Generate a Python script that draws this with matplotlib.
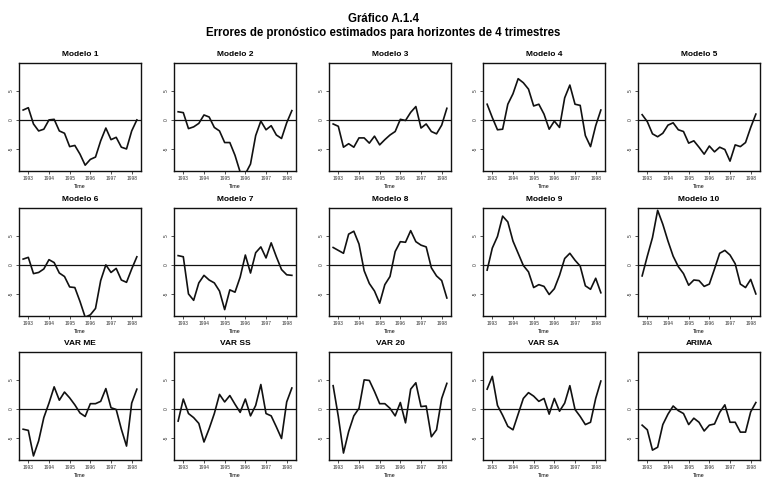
import numpy as np
import matplotlib
matplotlib.use("Agg")
import matplotlib.pyplot as plt

titles = ["Modelo 1", "Modelo 2", "Modelo 3", "Modelo 4", "Modelo 5",
          "Modelo 6", "Modelo 7", "Modelo 8", "Modelo 9", "Modelo 10",
          "VAR ME", "VAR SS", "VAR 20", "VAR SA", "ARIMA"]

time = 1992.75 + 0.25 * np.arange(23)
year_ticks = [1993, 1994, 1995, 1996, 1997, 1998]
y_ticks = [-5, 0, 5]

modelo1 = [1.7, 2.1, -0.7, -1.9, -1.6, 0.0, 0.1, -1.9, -2.3, -4.6, -4.4, -5.9,
           -7.8, -6.8, -6.4, -3.6, -1.4, -3.4, -3.0, -4.7, -5.0, -1.9, 0.0]
modelo2 = [1.4, 1.25, -1.5, -1.2, -0.6, 0.85, 0.5, -1.3, -1.9, -3.9, -3.9, -6.1,
           -9.0, -9.3, -7.6, -2.7, -0.2, -1.7, -1.0, -2.6, -3.2, -0.5, 1.6]
modelo3 = [-0.7, -1.1, -4.7, -4.1, -4.7, -3.1, -3.1, -4.0, -2.8, -4.3, -3.4, -2.6,
           -2.0, 0.1, -0.1, 1.3, 2.3, -1.4, -0.7, -2.0, -2.4, -0.9, 2.0]
modelo4 = [2.7, 0.4, -1.7, -1.6, 2.7, 4.5, 7.1, 6.4, 5.3, 2.4, 2.7, 1.0,
           -1.6, -0.2, -1.3, 3.8, 6.0, 2.7, 2.5, -2.7, -4.6, -1.0, 1.7]
modelo5 = [0.9, -0.3, -2.4, -2.9, -2.3, -0.9, -0.5, -1.7, -2.0, -4.0, -3.6, -4.7,
           -5.9, -4.5, -5.5, -4.7, -5.1, -7.1, -4.3, -4.6, -3.9, -1.3, 1.0]
modelo6 = [1.0, 1.3, -1.5, -1.3, -0.7, 0.9, 0.4, -1.4, -2.0, -3.8, -3.9, -6.3,
           -9.0, -8.6, -7.5, -2.7, 0.0, -1.3, -0.6, -2.6, -3.0, -0.7, 1.4]
modelo7 = [1.6, 1.4, -5.0, -6.1, -3.1, -1.8, -2.6, -3.1, -4.5, -7.7, -4.3, -4.7,
           -2.1, 1.7, -1.4, 2.1, 3.1, 1.2, 3.8, 1.4, -0.8, -1.7, -1.8]
modelo8 = [3.0, 2.5, 2.0, 5.3, 5.8, 3.6, -1.0, -3.2, -4.5, -6.6, -3.4, -2.0,
           2.3, 4.0, 3.9, 5.9, 4.0, 3.4, 3.1, -0.5, -1.9, -2.7, -5.7]
modelo9 = [-0.9, 2.9, 4.9, 8.4, 7.4, 4.1, 2.0, -0.1, -1.2, -3.9, -3.4, -3.7,
           -5.1, -4.1, -1.8, 1.1, 2.0, 0.8, -0.2, -3.6, -4.2, -2.3, -4.8]
modelo10 = [-1.9, 1.5, 4.7, 9.4, 7.0, 4.1, 1.5, -0.3, -1.5, -3.5, -2.6, -2.7,
            -3.7, -3.3, -0.7, 2.0, 2.5, 1.7, 0.2, -3.3, -3.9, -2.5, -5.0]
var_me = [-3.5, -3.7, -8.1, -5.5, -1.5, 1.0, 3.8, 1.5, 2.9, 1.9, 0.7, -0.7,
          -1.3, 0.9, 0.9, 1.3, 3.5, 0.2, -0.1, -3.5, -6.4, 1.0, 3.4]
var_ss = [-2.1, 1.7, -0.8, -1.5, -2.5, -5.7, -3.4, -0.8, 2.5, 1.2, 2.3, 0.8,
          -0.6, 1.7, -1.2, 0.6, 4.2, -0.8, -1.2, -3.1, -5.1, 1.2, 3.6]
var_20 = [4.0, -1.3, -7.6, -3.9, -1.2, 0.1, 5.0, 4.9, 3.0, 0.9, 0.9, 0.1,
          -1.2, 1.1, -2.4, 3.4, 4.5, 0.4, 0.5, -4.8, -3.6, 1.8, 4.4]
var_sa = [3.4, 5.6, 0.6, -1.1, -3.0, -3.6, -0.9, 1.8, 2.8, 2.2, 1.3, 1.8,
          -0.9, 1.8, -0.4, 1.0, 4.0, -0.1, -1.3, -2.7, -2.3, 1.8, 4.8]
arima = [-2.8, -3.6, -7.1, -6.6, -2.7, -0.9, 0.5, -0.3, -0.8, -2.7, -1.6, -2.3,
         -3.8, -2.8, -2.6, -0.6, 0.7, -2.3, -2.3, -4.0, -4.0, -0.5, 1.1]

series = [modelo1, modelo2, modelo3, modelo4, modelo5,
          modelo6, modelo7, modelo8, modelo9, modelo10,
          var_me, var_ss, var_20, var_sa, arima]

W, H = 784, 492
fig = plt.figure(figsize=(W / 100, H / 100), dpi=100)
fig.patch.set_facecolor("white")

fig.text(383 / W, 1 - 19 / H, "Gráfico A.1.4", ha="center", va="center",
         fontsize=8.3, fontweight="bold", family="Liberation Sans")
fig.text(383 / W, 1 - 33 / H, "Errores de pronóstico estimados para horizontes de 4 trimestres",
         ha="center", va="center", fontsize=8.3, fontweight="bold", family="Liberation Sans")

col_left = [19, 174, 329, 483, 638]
row_top = [63, 208, 352]
aw, ah = 122, 108

for i, (title, vals) in enumerate(zip(titles, series)):
    r, c = divmod(i, 5)
    left = col_left[c] / W
    bottom = 1 - (row_top[r] + ah) / H
    ax = fig.add_axes([left, bottom, aw / W, ah / H])
    ax.plot(time, vals, color="#111111", lw=1.2)
    ax.axhline(0, color="#111111", lw=0.9)
    ax.set_xlim(1992.55, 1998.45)
    ax.set_ylim(-8.8, 9.8)
    ax.set_xticks(year_ticks)
    ax.set_xticklabels([str(y) for y in year_ticks], fontsize=3.5, family="Liberation Sans")
    ax.set_yticks(y_ticks)
    ax.set_yticklabels([str(v) for v in y_ticks], fontsize=3.5, rotation=90,
                       va="center", family="Liberation Sans")
    ax.tick_params(length=2, width=0.6, pad=1.5, colors="#333333")
    for s in ax.spines.values():
        s.set_linewidth(1.0)
        s.set_color("#111111")
    ax.set_title(title, fontsize=6.0, fontweight="bold", pad=5, family="Liberation Sans")
    ax.set_xlabel("Time", fontsize=3.8, labelpad=2, family="Liberation Sans")

fig.savefig("out.png", dpi=100, facecolor="white")
